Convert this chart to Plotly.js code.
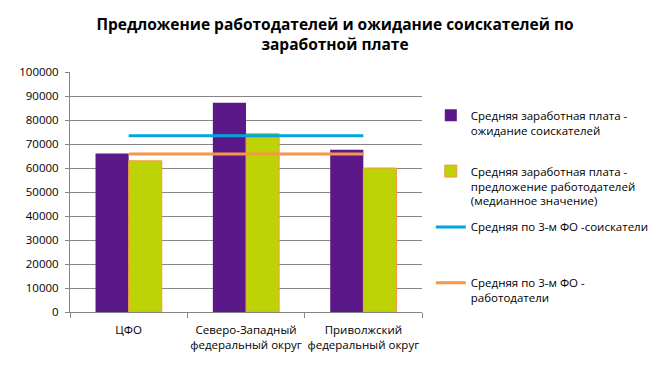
<!DOCTYPE html>
<html><head><meta charset="utf-8">
<script src="https://cdn.plot.ly/plotly-3.0.1.min.js"></script>
<style>html,body{margin:0;padding:0;background:#fff}#chart{width:670px;height:372px}</style>
</head><body><div id="chart"></div>
<script>
const categories = ["ЦФО", "Северо-Западный<br>федеральный округ", "Приволжский<br>федеральный округ"];
const seekers = [66000, 87200, 67600];
const employers = [63000, 74300, 60000];
const avgSeekers = [73400, 73400, 73400];
const avgEmployers = [65800, 65800, 65800];
const seriesNames = [
  "Средняя заработная плата -<br>ожидание соискателей<br> ",
  "Средняя заработная плата -<br>предложение работодателей<br>(медианное значение)",
  "Средняя по 3-м ФО -соискатели<br> <br> ",
  "Средняя по 3-м ФО -<br>работодатели"
];
const yTicks = [0,10000,20000,30000,40000,50000,60000,70000,80000,90000,100000];

const font = "Open Sans, sans-serif";
const traces = [
  {type:"bar", x:categories, y:seekers, name:seriesNames[0], marker:{color:"#5a1889"}, legendgroup:"a"},
  {type:"bar", x:categories, y:employers, name:seriesNames[1], marker:{color:"#bdd305", line:{color:"#f79646", width:1}}, legendgroup:"b"},
  {type:"scatter", mode:"lines", x:categories, y:avgSeekers, name:seriesNames[2], line:{color:"#00a6dc", width:3}, legendgroup:"c"},
  {type:"scatter", mode:"lines", x:categories, y:avgEmployers, name:seriesNames[3], line:{color:"#f79646", width:3}, legendgroup:"d"}
];
const layout = {
  width:670, height:372,
  margin:{l:70, r:248, t:72, b:60},
  paper_bgcolor:"#fff", plot_bgcolor:"#fff",
  font:{family:font, size:11.5, color:"#000"},
  title:{text:"<b>Предложение работодателей и ожидание соискателей по<br>заработной плате</b>", x:0.5, xanchor:"center", yref:"container", y:0.92, yanchor:"middle", font:{family:font, size:15.5, color:"#000"}},
  barmode:"group", bargap:0.435, bargroupgap:0,
  xaxis:{type:"category", showline:true, linecolor:"#868686", linewidth:1, ticks:"outside", tickson:"boundaries", ticklen:5, tickcolor:"#868686", showgrid:false, tickangle:0, ticklabelstandoff:7, tickfont:{size:11.5}, automargin:false},
  yaxis:{range:[0,100000], tickvals:yTicks, ticktext:yTicks.map(String), showline:true, linecolor:"#868686", linewidth:1, ticks:"outside", ticklen:4, tickcolor:"#868686", gridcolor:"#868686", gridwidth:1, zeroline:false, ticklabelstandoff:4, tickfont:{size:11.5}, automargin:false},
  legend:{x:1.025, xanchor:"left", y:0.878, yanchor:"top", traceorder:"grouped", tracegroupgap:8, valign:"top", font:{size:11.5}, itemwidth:30},
  showlegend:true
};
Plotly.newPlot("chart", traces, layout, {displayModeBar:false, staticPlot:true});
</script></body></html>
